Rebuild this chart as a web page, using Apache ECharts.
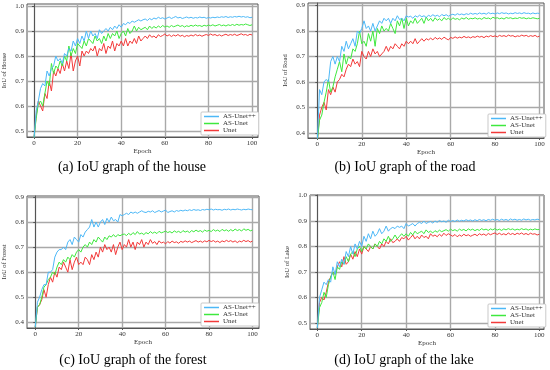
<!DOCTYPE html>
<html><head><meta charset="utf-8">
<script src="https://cdn.jsdelivr.net/npm/echarts@6/dist/echarts.min.js"></script>
<style>html,body{margin:0;padding:0;background:#fff}#c{width:550px;height:370px}</style>
</head><body><div id="c"></div>
<script>
const seriesNames = ['AS-Unet++', 'AS-Unet', 'Unet'];
const xTicks = [0, 20, 40, 60, 80, 100];
const captions = ['(a) IoU graph of the house', '(b) IoU graph of the road', '(c) IoU graph of the forest', '(d) IoU graph of the lake'];
const yNames = ['IoU of House', 'IoU of Road', 'IoU of Forest', 'IoU of Lake'];
const yTicksA = [0.5, 0.6, 0.7, 0.8, 0.9, 1.0];
const yTicksB = [0.4, 0.5, 0.6, 0.7, 0.8, 0.9];
const yTicksC = [0.4, 0.5, 0.6, 0.7, 0.8, 0.9];
const yTicksD = [0.5, 0.6, 0.7, 0.8, 0.9, 1.0];

const houseBlue = [0.47,0.58,0.62,0.67,0.69,0.68,0.74,0.72,0.75,0.76,0.80,
0.78,0.79,0.77,0.81,0.80,0.83,0.82,0.86,0.84,0.87,
0.85,0.88,0.86,0.90,0.87,0.90,0.88,0.89,0.87,0.905,
0.89,0.90,0.91,0.90,0.915,0.905,0.92,0.91,0.925,0.915,
0.93,0.925,0.935,0.93,0.94,0.935,0.94,0.945,0.94,0.945,
0.948,0.942,0.95,0.945,0.952,0.948,0.955,0.95,0.953,0.948,
0.952,0.956,0.95,0.954,0.958,0.952,0.955,0.95,0.953,0.956,
0.952,0.955,0.951,0.954,0.952,0.956,0.953,0.955,0.951,0.954,
0.952,0.955,0.953,0.956,0.954,0.957,0.955,0.958,0.954,0.957,
0.955,0.958,0.956,0.959,0.956,0.958,0.955,0.957,0.953,0.955];
const houseGreen = [0.47,0.55,0.61,0.62,0.60,0.65,0.70,0.68,0.77,0.73,0.76,
0.75,0.78,0.76,0.80,0.78,0.84,0.80,0.83,0.81,0.85,
0.84,0.83,0.86,0.84,0.87,0.86,0.85,0.88,0.86,0.87,
0.85,0.88,0.86,0.89,0.87,0.89,0.88,0.90,0.87,0.89,
0.90,0.88,0.91,0.89,0.90,0.92,0.90,0.915,0.905,0.91,
0.915,0.905,0.92,0.91,0.918,0.912,0.92,0.914,0.922,0.916,
0.92,0.915,0.922,0.917,0.92,0.924,0.918,0.922,0.916,0.921,
0.918,0.923,0.919,0.924,0.92,0.922,0.918,0.923,0.92,0.924,
0.921,0.925,0.92,0.923,0.926,0.921,0.924,0.92,0.925,0.922,
0.926,0.922,0.927,0.923,0.926,0.924,0.928,0.925,0.922,0.925];
const houseRed = [0.47,0.56,0.62,0.60,0.58,0.65,0.63,0.70,0.66,0.74,0.72,
0.75,0.73,0.77,0.74,0.78,0.75,0.81,0.74,0.78,0.80,
0.76,0.82,0.80,0.82,0.81,0.83,0.82,0.84,0.80,0.83,
0.82,0.85,0.81,0.84,0.83,0.86,0.82,0.85,0.84,0.86,
0.84,0.87,0.84,0.86,0.85,0.87,0.85,0.88,0.86,0.87,
0.88,0.87,0.885,0.875,0.88,0.872,0.885,0.878,0.882,0.888,
0.88,0.885,0.878,0.884,0.88,0.886,0.879,0.883,0.877,0.882,
0.879,0.884,0.88,0.886,0.881,0.884,0.879,0.883,0.886,0.882,
0.888,0.883,0.886,0.881,0.885,0.88,0.884,0.887,0.882,0.886,
0.883,0.887,0.882,0.885,0.889,0.884,0.886,0.882,0.887,0.884];

const roadBlue = [0.37,0.57,0.55,0.60,0.61,0.60,0.68,0.70,0.67,0.70,0.68,
0.74,0.72,0.76,0.73,0.75,0.77,0.74,0.80,0.79,0.81,
0.84,0.81,0.82,0.80,0.83,0.80,0.82,0.84,0.83,0.85,
0.84,0.85,0.83,0.85,0.84,0.86,0.845,0.85,0.84,0.86,
0.855,0.858,0.85,0.86,0.855,0.862,0.856,0.86,0.853,0.862,
0.857,0.864,0.858,0.862,0.856,0.865,0.86,0.864,0.858,0.863,
0.866,0.862,0.868,0.864,0.867,0.863,0.868,0.865,0.87,0.866,
0.869,0.866,0.871,0.867,0.87,0.866,0.872,0.868,0.87,0.867,
0.871,0.868,0.872,0.869,0.871,0.867,0.87,0.868,0.872,0.869,
0.871,0.868,0.872,0.869,0.87,0.867,0.871,0.868,0.87,0.869];
const roadGreen = [0.37,0.45,0.47,0.52,0.56,0.61,0.56,0.58,0.62,0.65,0.68,
0.64,0.71,0.67,0.70,0.69,0.73,0.72,0.75,0.80,0.75,
0.76,0.74,0.79,0.76,0.80,0.74,0.81,0.79,0.82,0.80,
0.81,0.80,0.83,0.81,0.79,0.84,0.82,0.85,0.81,0.85,
0.82,0.84,0.83,0.85,0.83,0.84,0.85,0.83,0.855,0.84,
0.85,0.838,0.852,0.842,0.848,0.84,0.853,0.845,0.85,0.843,
0.852,0.846,0.849,0.844,0.851,0.847,0.853,0.846,0.85,0.848,
0.852,0.847,0.85,0.846,0.853,0.849,0.851,0.847,0.854,0.85,
0.852,0.848,0.851,0.847,0.853,0.85,0.852,0.848,0.851,0.849,
0.853,0.85,0.852,0.848,0.851,0.849,0.852,0.85,0.848,0.85];
const roadRed = [0.37,0.47,0.50,0.52,0.49,0.57,0.55,0.58,0.56,0.60,0.61,
0.63,0.62,0.65,0.67,0.66,0.69,0.67,0.68,0.66,0.72,
0.70,0.69,0.72,0.70,0.73,0.71,0.72,0.70,0.71,0.72,
0.74,0.72,0.74,0.73,0.75,0.74,0.73,0.75,0.74,0.76,
0.75,0.76,0.75,0.77,0.75,0.76,0.77,0.76,0.77,0.765,
0.772,0.765,0.775,0.768,0.773,0.767,0.776,0.77,0.765,0.775,
0.771,0.777,0.772,0.776,0.773,0.779,0.774,0.777,0.773,0.778,
0.775,0.78,0.776,0.779,0.774,0.78,0.777,0.782,0.778,0.781,
0.777,0.783,0.779,0.782,0.778,0.784,0.78,0.782,0.777,0.781,
0.779,0.784,0.78,0.783,0.778,0.782,0.779,0.783,0.777,0.78];

const forestBlue = [0.38,0.48,0.50,0.53,0.55,0.55,0.60,0.60,0.61,0.66,0.68,
0.69,0.69,0.70,0.69,0.72,0.73,0.71,0.74,0.73,0.72,
0.75,0.74,0.76,0.77,0.78,0.81,0.78,0.80,0.78,0.80,
0.81,0.79,0.815,0.80,0.82,0.805,0.81,0.80,0.83,0.825,
0.83,0.835,0.83,0.84,0.835,0.84,0.835,0.84,0.845,0.84,
0.838,0.843,0.84,0.845,0.838,0.842,0.846,0.84,0.844,0.848,
0.838,0.842,0.845,0.84,0.846,0.843,0.847,0.844,0.848,0.845,
0.849,0.846,0.85,0.847,0.849,0.846,0.85,0.848,0.851,0.849,
0.852,0.848,0.851,0.849,0.85,0.847,0.851,0.849,0.852,0.848,
0.851,0.849,0.852,0.85,0.848,0.851,0.849,0.852,0.85,0.849];
const forestGreen = [0.38,0.46,0.47,0.50,0.54,0.55,0.57,0.58,0.60,0.59,0.62,
0.64,0.63,0.65,0.64,0.66,0.65,0.67,0.66,0.68,0.69,
0.68,0.70,0.71,0.70,0.72,0.71,0.73,0.72,0.74,0.73,
0.72,0.74,0.73,0.745,0.74,0.75,0.74,0.75,0.745,0.75,
0.752,0.746,0.755,0.748,0.758,0.75,0.762,0.752,0.756,0.75,
0.758,0.753,0.762,0.755,0.76,0.754,0.763,0.757,0.76,0.764,
0.758,0.762,0.756,0.765,0.759,0.763,0.757,0.766,0.76,0.764,
0.758,0.766,0.761,0.768,0.762,0.766,0.76,0.768,0.763,0.767,
0.762,0.77,0.764,0.768,0.762,0.771,0.765,0.769,0.763,0.77,
0.764,0.772,0.766,0.77,0.764,0.773,0.767,0.771,0.765,0.768];
const forestRed = [0.38,0.46,0.47,0.49,0.53,0.50,0.55,0.58,0.56,0.60,0.58,
0.62,0.61,0.64,0.62,0.60,0.65,0.61,0.64,0.66,0.63,
0.64,0.63,0.66,0.65,0.63,0.67,0.65,0.68,0.66,0.70,
0.68,0.71,0.69,0.70,0.68,0.71,0.67,0.70,0.72,0.69,
0.71,0.70,0.73,0.70,0.72,0.69,0.72,0.71,0.73,0.70,
0.72,0.71,0.73,0.715,0.722,0.71,0.725,0.716,0.72,0.713,
0.722,0.716,0.724,0.718,0.721,0.715,0.723,0.719,0.725,0.72,
0.724,0.718,0.722,0.726,0.72,0.724,0.719,0.725,0.721,0.727,
0.722,0.726,0.72,0.724,0.718,0.725,0.721,0.727,0.722,0.726,
0.72,0.725,0.718,0.724,0.721,0.727,0.722,0.726,0.72,0.724];

const lakeBlue = [0.48,0.60,0.63,0.66,0.65,0.67,0.66,0.72,0.69,0.74,0.72,
0.75,0.73,0.78,0.76,0.80,0.77,0.81,0.79,0.82,0.80,
0.84,0.82,0.85,0.83,0.86,0.84,0.85,0.87,0.85,0.86,
0.88,0.86,0.87,0.875,0.87,0.88,0.875,0.88,0.87,0.89,
0.88,0.885,0.89,0.88,0.89,0.895,0.89,0.90,0.89,0.895,
0.898,0.892,0.9,0.895,0.902,0.897,0.9,0.895,0.903,0.898,
0.902,0.898,0.904,0.899,0.903,0.9,0.905,0.901,0.904,0.9,
0.905,0.901,0.906,0.902,0.905,0.901,0.906,0.903,0.907,0.903,
0.906,0.902,0.907,0.903,0.906,0.902,0.908,0.904,0.907,0.903,
0.906,0.903,0.908,0.904,0.907,0.903,0.906,0.904,0.907,0.905];
const lakeGreen = [0.48,0.56,0.58,0.62,0.60,0.65,0.68,0.70,0.67,0.72,0.71,
0.74,0.73,0.76,0.74,0.77,0.78,0.76,0.79,0.80,0.78,
0.80,0.79,0.81,0.80,0.79,0.81,0.80,0.82,0.81,0.83,
0.82,0.84,0.82,0.83,0.845,0.83,0.84,0.85,0.84,0.85,
0.84,0.855,0.845,0.86,0.85,0.855,0.86,0.85,0.865,0.855,
0.86,0.853,0.862,0.856,0.864,0.858,0.862,0.866,0.86,0.868,
0.862,0.866,0.86,0.868,0.863,0.867,0.861,0.869,0.864,0.868,
0.862,0.867,0.863,0.87,0.865,0.868,0.863,0.869,0.865,0.87,
0.864,0.868,0.863,0.869,0.865,0.87,0.866,0.869,0.864,0.868,
0.865,0.87,0.866,0.869,0.864,0.868,0.865,0.869,0.866,0.867];
const lakeRed = [0.48,0.58,0.60,0.59,0.62,0.66,0.68,0.70,0.69,0.72,0.74,
0.72,0.76,0.73,0.74,0.77,0.75,0.78,0.76,0.79,0.77,
0.80,0.79,0.78,0.80,0.79,0.81,0.80,0.79,0.81,0.80,
0.82,0.81,0.83,0.815,0.82,0.83,0.82,0.835,0.83,0.84,
0.825,0.835,0.845,0.83,0.84,0.83,0.845,0.835,0.84,0.83,
0.85,0.84,0.845,0.838,0.848,0.84,0.852,0.843,0.85,0.845,
0.84,0.847,0.838,0.845,0.84,0.848,0.842,0.846,0.84,0.844,
0.848,0.842,0.85,0.845,0.849,0.843,0.851,0.846,0.85,0.853,
0.847,0.852,0.846,0.85,0.845,0.853,0.847,0.851,0.846,0.852,
0.848,0.853,0.847,0.851,0.846,0.852,0.848,0.85,0.845,0.848];

const epochs = houseBlue.map((v, i) => i);

const colors = ['#4db8f7', '#3ee83e', '#f23a3a'];
const FONT = '"Liberation Serif", "Times New Roman", serif';

const panels = [
  {grid:{left:26, top:4, width:232, height:133}, x:[-3.2,102.7], y:[0.476,1.008], yt:yTicksA, data:[houseBlue,houseGreen,houseRed], legend:{left:201, top:112}, cap:[132,167]},
  {grid:{left:308, top:3, width:236, height:135}, x:[-4.2,102], y:[0.38,0.91], yt:yTicksB, data:[roadBlue,roadGreen,roadRed], legend:{left:488, top:114}, cap:[405,167]},
  {grid:{left:26, top:196, width:233, height:132}, x:[-3.8,103], y:[0.377,0.904], yt:yTicksC, data:[forestBlue,forestGreen,forestRed], legend:{left:201, top:303}, cap:[133,360]},
  {grid:{left:310, top:195, width:234, height:134}, x:[-3.3,102.1], y:[0.476,1.002], yt:yTicksD, data:[lakeBlue,lakeGreen,lakeRed], legend:{left:488, top:304}, cap:[404,360]}
];

const option = {
  animation: false,
  backgroundColor: '#fff',
  grid: [], xAxis: [], yAxis: [], series: [], legend: [], graphic: []
};

panels.forEach((p, k) => {
  option.grid.push(Object.assign({show:true, borderColor:'#555', borderWidth:1, backgroundColor:'#fff'}, p.grid));
  option.xAxis.push({
    type:'value', gridIndex:k, min:p.x[0], max:p.x[1],
    name:'Epoch', nameLocation:'middle', nameGap:10,
    nameTextStyle:{fontFamily:FONT, fontSize:7, color:'#333'},
    axisLine:{show:true, onZero:false, lineStyle:{color:'#555', width:1}},
    axisTick:{show:true, length:2, customValues:xTicks, lineStyle:{color:'#555'}},
    axisLabel:{customValues:xTicks, fontFamily:FONT, fontSize:7, color:'#333', margin:3},
    splitLine:{show:true, lineStyle:{color:'#a9a9a9', width:1.4}}
  });
  option.yAxis.push({
    type:'value', gridIndex:k, min:p.y[0], max:p.y[1],
    name:yNames[k], nameLocation:'middle', nameGap:19,
    nameTextStyle:{fontFamily:FONT, fontSize:6.5, color:'#333'},
    axisLine:{show:true, lineStyle:{color:'#555', width:1}},
    axisTick:{show:true, length:2, customValues:p.yt, lineStyle:{color:'#555'}},
    axisLabel:{customValues:p.yt, fontFamily:FONT, fontSize:7, color:'#333', margin:3, formatter:v => v.toFixed(1)},
    splitLine:{show:true, lineStyle:{color:'#a9a9a9', width:1.4}}
  });
  p.data.forEach((vals, j) => {
    option.series.push({
      type:'line', name:seriesNames[j], xAxisIndex:k, yAxisIndex:k,
      data: epochs.map((e, i) => [e, vals[i]]),
      showSymbol:false, symbol:'none', color:colors[j],
      lineStyle:{width:1, color:colors[j]}, z: 3 - j
    });
  });
  option.legend.push({
    data: seriesNames, orient:'vertical', left:p.legend.left, top:p.legend.top,
    backgroundColor:'#fff', borderColor:'#bbb', borderWidth:0.8, borderRadius:1,
    padding:[1,3,1,3], itemGap:0, itemWidth:15, itemHeight:1.5, icon:'rect',
    textStyle:{fontFamily:FONT, fontSize:7, color:'#333', lineHeight:7, padding:[0,0,0,-1]},
    selectedMode:false
  });
  option.graphic.push({
    type:'text', x:p.cap[0], y:p.cap[1],
    style:{text:captions[k], fill:'#000', font:'14px "Liberation Serif", "Times New Roman", serif', textAlign:'center', textVerticalAlign:'middle'}
  });
});

const chart = echarts.init(document.getElementById('c'), null, {renderer:'canvas'});
chart.setOption(option);
</script>
</body></html>
